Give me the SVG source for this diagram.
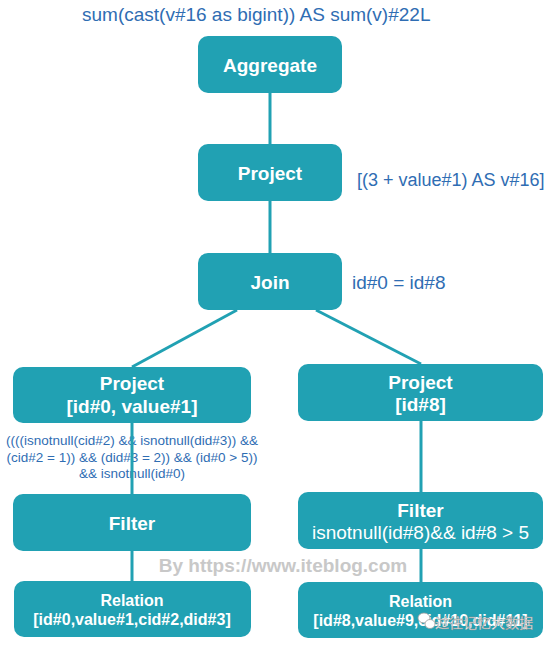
<svg xmlns="http://www.w3.org/2000/svg" width="549" height="646" viewBox="0 0 549 646">
<style>
.box{fill:#21a1b3}
.t{font-family:"Liberation Sans",Arial,sans-serif;fill:#ffffff;text-anchor:middle;font-weight:bold}
.ann{font-family:"Liberation Sans",Arial,sans-serif;fill:#2f6db3}
.edge{stroke:#21a1b3;stroke-width:3;fill:none}
.wm{font-family:"Liberation Sans",Arial,sans-serif;fill:#c8c8c8;font-weight:bold;text-anchor:middle}
</style>
<rect width="549" height="646" fill="#ffffff"/>
<text class="ann" x="82" y="21" font-size="19">sum(cast(v#16 as bigint)) AS sum(v)#22L</text>
<text class="ann" x="357" y="186" font-size="18">[(3 + value#1) AS v#16]</text>
<text class="ann" x="352" y="289" font-size="19">id#0 = id#8</text>
<g id="aggregate"><rect class="box" x="198" y="36" width="144" height="57" rx="10"/><text class="t" x="270" y="72" font-size="19">Aggregate</text></g>
<g id="project-top"><rect class="box" x="198" y="144" width="144" height="57" rx="10"/><text class="t" x="270" y="180" font-size="19">Project</text></g>
<g id="join"><rect class="box" x="198" y="253" width="144" height="57" rx="10"/><text class="t" x="270" y="289" font-size="19">Join</text></g>
<g id="project-left"><rect class="box" x="13" y="367" width="238" height="56" rx="10"/><text class="t" x="132" y="390" font-size="19">Project</text><text class="t" x="132" y="413" font-size="19">[id#0, value#1]</text></g>
<g id="project-right"><rect class="box" x="298" y="364" width="245" height="57" rx="10"/><text class="t" x="420.5" y="389" font-size="19">Project</text><text class="t" x="420.5" y="411" font-size="19">[id#8]</text></g>
<g id="filter-left-label"><text class="ann" x="132" y="445" font-size="13.5" text-anchor="middle">((((isnotnull(cid#2) &amp;&amp; isnotnull(did#3)) &amp;&amp;</text><text class="ann" x="132" y="462" font-size="13.5" text-anchor="middle">(cid#2 = 1)) &amp;&amp; (did#3 = 2)) &amp;&amp; (id#0 &gt; 5))</text><text class="ann" x="132" y="478" font-size="13.5" text-anchor="middle">&amp;&amp; isnotnull(id#0)</text></g>
<g id="filter-left"><rect class="box" x="13" y="494" width="238" height="57" rx="10"/><text class="t" x="132" y="530" font-size="19">Filter</text></g>
<g id="filter-right"><rect class="box" x="298" y="492" width="245" height="57" rx="10"/><text class="t" x="420.5" y="517" font-size="19">Filter</text><text class="t" x="420.5" y="539" font-size="19" font-weight="normal" style="font-weight:normal">isnotnull(id#8)&amp;&amp; id#8 &gt; 5</text></g>
<g id="relation-left"><rect class="box" x="14" y="581" width="237" height="56" rx="10"/><text class="t" x="132" y="606" font-size="16">Relation</text><text class="t" x="132" y="625" font-size="16">[id#0,value#1,cid#2,did#3]</text></g>
<g id="relation-right"><rect class="box" x="298" y="582" width="245" height="56" rx="10"/><text class="t" x="420.5" y="607" font-size="16">Relation</text><text class="t" x="420.5" y="626" font-size="16">[id#8,value#9,cid#10,did#11]</text></g>
<g id="connectors">
<line class="edge" x1="270" y1="93" x2="270" y2="144"/>
<line class="edge" x1="270" y1="201" x2="270" y2="253"/>
<line class="edge" x1="237" y1="310" x2="132" y2="367"/>
<line class="edge" x1="316" y1="310" x2="421" y2="364"/>
<line class="edge" x1="132" y1="423" x2="132" y2="494"/>
<line class="edge" x1="132" y1="551" x2="132" y2="581"/>
<line class="edge" x1="421" y1="421" x2="421" y2="492"/>
<line class="edge" x1="421" y1="549" x2="421" y2="582"/>
</g>
<text class="wm" x="283" y="572" font-size="19">By https://www.iteblog.com</text>
<g id="watermark">
<ellipse cx="424" cy="618" rx="6" ry="5" fill="#ffffff" stroke="#9a9a9a" stroke-width="0.8"/>
<ellipse cx="430" cy="624" rx="5" ry="4.5" fill="#ffffff" stroke="#9a9a9a" stroke-width="0.8"/>
<text x="435" y="628" font-size="14" font-family="'Noto Sans CJK SC',sans-serif" fill="#ffffff" stroke="#8a8a8a" stroke-width="0.4">过往记忆大数据</text>
</g>
</svg>
